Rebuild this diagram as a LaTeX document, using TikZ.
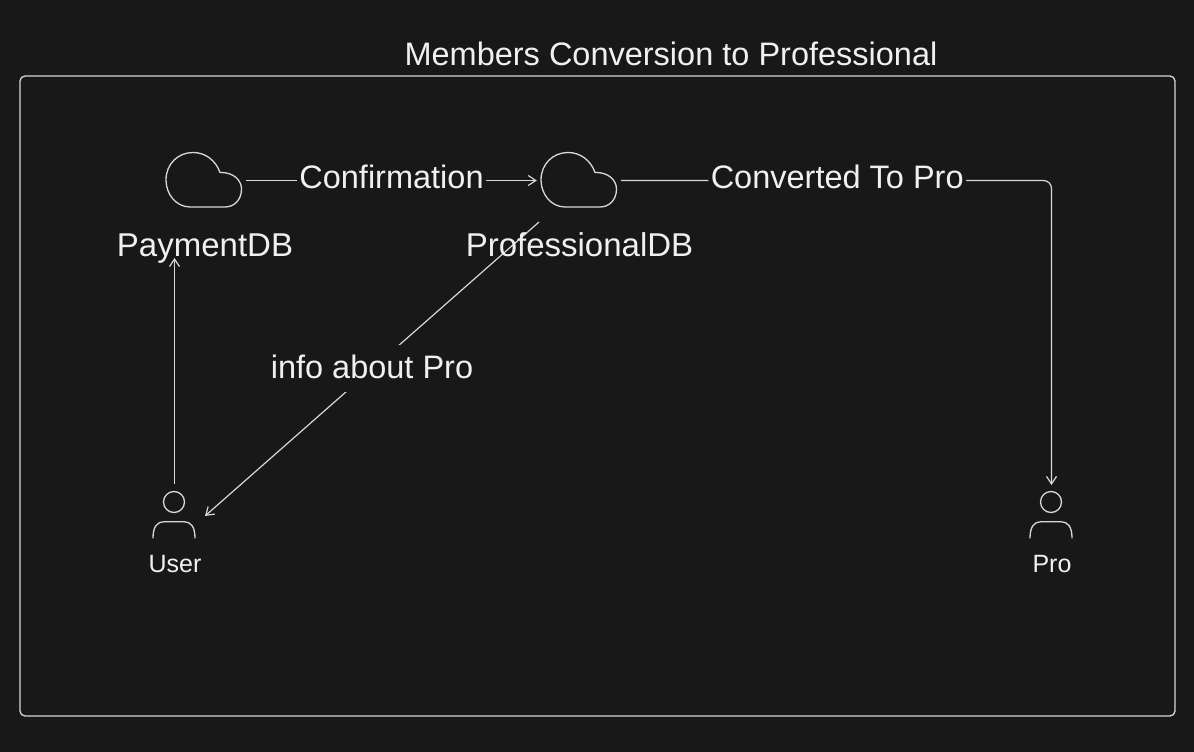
\documentclass[tikz,border=0pt]{standalone}
\usepackage{fontspec}
\setmainfont{Liberation Sans}
\usetikzlibrary{arrows.meta}
\definecolor{bgc}{HTML}{181818}
\definecolor{linec}{HTML}{D8D8D8}
\definecolor{textc}{HTML}{F0F0F0}
\tikzset{
  x=1pt,y=-1pt,
  lbl/.style={text=textc,inner sep=0pt,font=\fontsize{#1}{#1}\selectfont},
  cut/.style={lbl=#1,fill=bgc,inner xsep=2.5pt,inner ysep=2pt},
  anchorbox/.style={inner sep=0pt,minimum width=#1,minimum height=55pt},
  conn/.style={draw=linec,line width=1.2pt,-{Straight Barb[length=7.5pt,width=10pt,line width=1.2pt]}},
  plain/.style={draw=linec,line width=1.3pt,line cap=round},
  cloudpic/.pic={
    \draw[plain] (-14,27) .. controls (-28,27) and (-38,14) .. (-38,0)
      .. controls (-38,-16) and (-26,-27.5) .. (-11,-27.5)
      .. controls (2,-27.5) and (12,-19) .. (16,-7.5)
      .. controls (29,-8) and (37.5,0) .. (37.5,9)
      .. controls (37.5,20) and (30,27) .. (21,27) -- cycle;
  },
  personpic/.pic={
    \draw[plain] (0,-11) circle (10.5);
    \draw[plain] (-21,25) .. controls (-21,14) and (-17,8.7) .. (-10,8.7) -- (10,8.7)
      .. controls (17,8.7) and (21,14) .. (21,25);
  }
}
\begin{document}
\begin{tikzpicture}
\useasboundingbox (0,0) rectangle (1194,752);
\fill[bgc] (0,0) rectangle (1194,752);
\draw[plain,rounded corners=5pt] (20,76) rectangle (1175,716);
\node[lbl=32.5] (title) at (671,54) {Members Conversion to Professional};

\node[anchorbox=84pt] (pay) at (204,180.5) {};
\node[anchorbox=84pt] (prof) at (579,180.5) {};
\pic at (204,180) {cloudpic};
\pic at (579,180) {cloudpic};

\node[inner sep=0pt,minimum width=42pt,minimum height=46pt] (user) at (174.5,514) {};
\node[inner sep=0pt,minimum width=42pt,minimum height=46pt] (pro) at (1051.5,514) {};
\pic at (174,513) {personpic};
\pic at (1051,513) {personpic};
\node[lbl=25,anchor=base] (userlabel) at (175,572) {User};
\node[lbl=25,anchor=base] (prolabel) at (1052,572) {Pro};

\coordinate (payin) at (174.5,258);
\coordinate (userout) at (174.5,484);
\coordinate (profout) at (539,222);
\coordinate (userin) at (205,516);
\coordinate (proin) at (1051.5,485);
\coordinate (procorner) at (1051.5,180.5);

\draw[conn] (userout) -- (payin);
\draw[conn] (pay.east) -- node[cut=32.5,pos=.5,yshift=3.5pt] (confirm) {Confirmation} (prof.west);
\draw[conn,rounded corners=8pt] (prof.east) -- node[cut=32.5,pos=.502,yshift=3.5pt] (converted) {Converted To Pro} (procorner) -- (proin);
\draw[conn] (profout) -- node[cut=32.5,pos=.5,yshift=.5pt,inner ysep=10pt,text depth=4pt] (info) {info about Pro} (userin);
\node[lbl=33,anchor=base] (paylabel) at (205,256) {PaymentDB};
\node[lbl=33,anchor=base] (proflabel) at (579.5,256) {ProfessionalDB};
\end{tikzpicture}
\end{document}
